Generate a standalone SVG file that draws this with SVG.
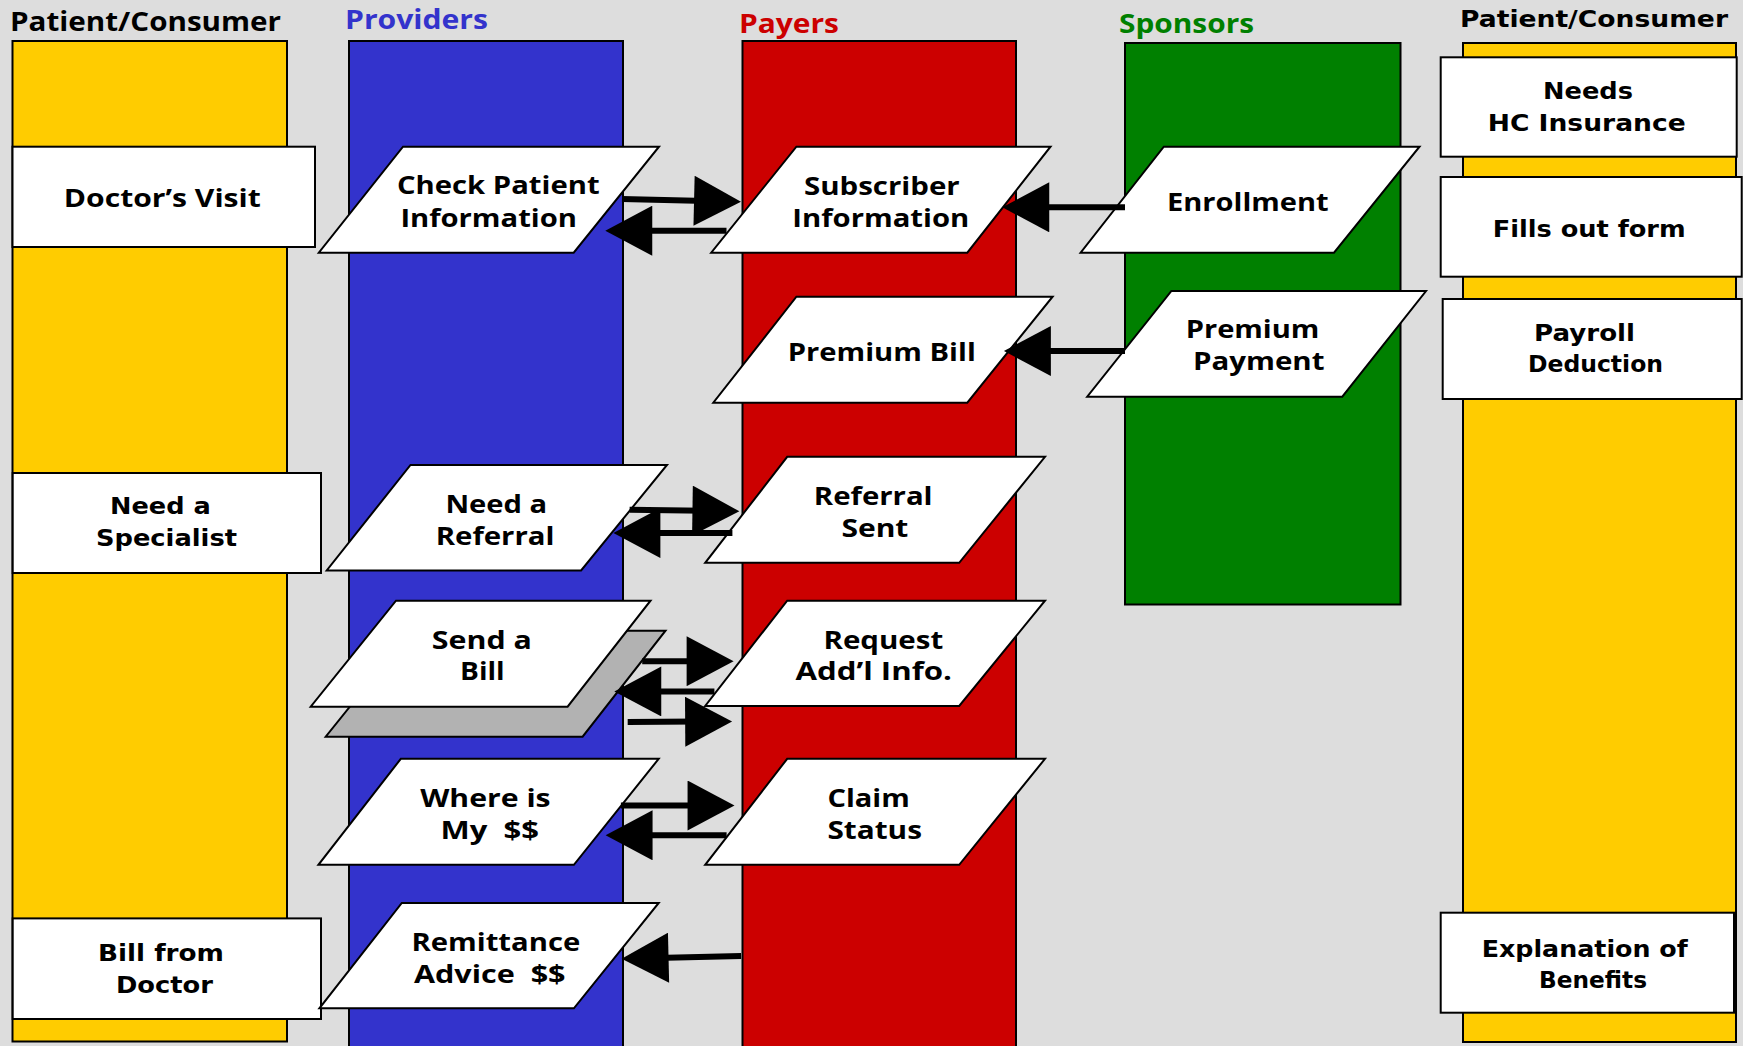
<svg xmlns="http://www.w3.org/2000/svg" width="1743" height="1046" viewBox="0 0 1743 1046">
<style>
.col{stroke:#000;stroke-width:2}
.box{fill:#fff;stroke:#000;stroke-width:2}
.pg{fill:#fff;stroke:#000;stroke-width:2;stroke-linejoin:miter}
.shadow{fill:#b2b2b2;stroke:#000;stroke-width:2}
.vt{font-family:"DejaVu Sans",Verdana,sans-serif;font-weight:bold;font-size:23px;fill:#000}
.ft{font-family:"Open Sans","Noto Sans",sans-serif;font-weight:bold;font-size:25px;fill:#000}
.title{font-family:"Open Sans","Noto Sans",sans-serif;font-weight:bold;font-size:26px}
.conn{stroke:#000;stroke-width:6;fill:none;marker-end:url(#ah)}
</style>
<defs>
<marker id="ah" markerUnits="userSpaceOnUse" markerWidth="48" markerHeight="50" viewBox="0 0 46 49" refX="12" refY="24.5" orient="auto">
<path d="M0,0 L46,24.5 L0,49 Z" fill="#000"/>
</marker>
</defs>
<rect x="0" y="0" width="1743" height="1046" fill="#dddddd"/>

<g id="lanes">
<rect class="col" x="12.5" y="41" width="274.5" height="1000.5" fill="#ffcc00"/>
<rect class="col" x="349" y="41" width="274" height="1010" fill="#3333cc"/>
<rect class="col" x="742.5" y="41" width="273.5" height="1010" fill="#cc0000"/>
<rect class="col" x="1125" y="43" width="275.5" height="561.5" fill="#008000"/>
<rect class="col" x="1463" y="43" width="273" height="999" fill="#ffcc00"/>
</g>

<g id="titles">
<text class="title" x="10" y="30.7" font-size="24" textLength="271" lengthAdjust="spacingAndGlyphs" fill="#000">Patient/Consumer</text>
<text class="title" x="345" y="29.3" textLength="143" lengthAdjust="spacingAndGlyphs" fill="#3333cc">Providers</text>
<text class="title" x="739" y="33.3" textLength="100" lengthAdjust="spacingAndGlyphs" fill="#cc0000">Payers</text>
<text class="title" x="1119" y="33.3" textLength="135" lengthAdjust="spacingAndGlyphs" fill="#008000">Sponsors</text>
<text class="vt" x="1460" y="26.7" textLength="268" lengthAdjust="spacingAndGlyphs">Patient/Consumer</text>
</g>

<g id="doctors-visit">
<rect class="box" x="12.5" y="146.7" width="302.5" height="100.3"/>
<text class="ft" x="63.8" y="206.7" textLength="197" lengthAdjust="spacingAndGlyphs">Doctor’s Visit</text>
</g>
<g id="need-specialist">
<rect class="box" x="12.7" y="473" width="308.3" height="100"/>
<text class="vt" x="110" y="513.9" textLength="100.7" lengthAdjust="spacingAndGlyphs">Need a</text>
<text class="vt" x="96" y="545.5" textLength="141" lengthAdjust="spacingAndGlyphs">Specialist</text>
</g>
<g id="bill-from-doctor">
<rect class="box" x="12.7" y="918.4" width="308.3" height="100.6"/>
<text class="vt" x="98" y="961" textLength="126" lengthAdjust="spacingAndGlyphs">Bill from</text>
<text class="vt" x="116" y="993" textLength="97" lengthAdjust="spacingAndGlyphs">Doctor</text>
</g>

<g id="check-patient">
<polygon class="pg" points="403,146.7 659,146.7 573.7,252.7 318.8,252.7"/>
<text class="ft" x="397" y="194.3" textLength="202.6" lengthAdjust="spacingAndGlyphs">Check Patient</text>
<text class="ft" x="400.4" y="226.7" textLength="176.6" lengthAdjust="spacingAndGlyphs">Information</text>
</g>
<g id="need-referral">
<polygon class="pg" points="410.5,464.9 667,464.9 581.1,570.5 326.7,570.5"/>
<text class="ft" x="445.4" y="512.7" textLength="101.8" lengthAdjust="spacingAndGlyphs">Need a</text>
<text class="ft" x="435.7" y="544.5" textLength="118.8" lengthAdjust="spacingAndGlyphs">Referral</text>
</g>
<g id="send-bill">
<polygon class="shadow" points="411,630.7 665.5,630.7 582.6,736.7 325.7,736.7"/>
<polygon class="pg" points="396,600.7 650.5,600.7 567.6,706.7 310.7,706.7"/>
<text class="ft" x="431.8" y="648.6" textLength="100" lengthAdjust="spacingAndGlyphs">Send a</text>
<text class="ft" x="460" y="680.3" textLength="44.6" lengthAdjust="spacingAndGlyphs">Bill</text>
</g>
<g id="where-is-my-money">
<polygon class="pg" points="400.8,758.8 658.7,758.8 573.9,864.8 318.4,864.8"/>
<text class="ft" x="420.2" y="806.6" textLength="130.4" lengthAdjust="spacingAndGlyphs">Where is</text>
<text class="ft" x="440.6" y="839.2" textLength="98.4" lengthAdjust="spacingAndGlyphs" xml:space="preserve">My  $$</text>
</g>
<g id="remittance-advice">
<polygon class="pg" points="401.8,903 658.7,903 573.9,1008.3 319.4,1008.3"/>
<text class="ft" x="411.5" y="950.9" textLength="168.7" lengthAdjust="spacingAndGlyphs">Remittance</text>
<text class="ft" x="413.9" y="982.7" textLength="151.7" lengthAdjust="spacingAndGlyphs" xml:space="preserve">Advice  $$</text>
</g>

<g id="subscriber-info">
<polygon class="pg" points="796.4,146.7 1050.5,146.7 967.3,252.7 711.2,252.7"/>
<text class="ft" x="804" y="195" textLength="155.7" lengthAdjust="spacingAndGlyphs">Subscriber</text>
<text class="ft" x="792.3" y="226.7" textLength="177" lengthAdjust="spacingAndGlyphs">Information</text>
</g>
<g id="premium-bill">
<polygon class="pg" points="796.4,296.7 1052.6,296.7 967.3,402.7 713.3,402.7"/>
<text class="ft" x="787.8" y="360.7" textLength="188" lengthAdjust="spacingAndGlyphs">Premium Bill</text>
</g>
<g id="referral-sent">
<polygon class="pg" points="787.2,456.8 1045,456.8 959.2,562.8 705.2,562.8"/>
<text class="ft" x="813.8" y="505" textLength="118.8" lengthAdjust="spacingAndGlyphs">Referral</text>
<text class="ft" x="841.4" y="536.8" textLength="67" lengthAdjust="spacingAndGlyphs">Sent</text>
</g>
<g id="request-info">
<polygon class="pg" points="787.2,600.7 1045,600.7 959.2,706 705.2,706"/>
<text class="ft" x="823.5" y="648.6" textLength="119.7" lengthAdjust="spacingAndGlyphs">Request</text>
<text class="ft" x="795.4" y="680.3" textLength="156.6" lengthAdjust="spacingAndGlyphs">Add’l Info.</text>
</g>
<g id="claim-status">
<polygon class="pg" points="787.2,758.8 1045,758.8 959.2,864.8 705.2,864.8"/>
<text class="ft" x="827.4" y="806.6" textLength="82.4" lengthAdjust="spacingAndGlyphs">Claim</text>
<text class="ft" x="827.4" y="839.2" textLength="94.6" lengthAdjust="spacingAndGlyphs">Status</text>
</g>

<g id="enrollment">
<polygon class="pg" points="1163.8,146.7 1419.5,146.7 1334,252.7 1080.6,252.7"/>
<text class="ft" x="1167" y="210.7" textLength="161.6" lengthAdjust="spacingAndGlyphs">Enrollment</text>
</g>
<g id="premium-payment">
<polygon class="pg" points="1171.4,291 1426,291 1342.3,396.7 1087.2,396.7"/>
<text class="ft" x="1185.7" y="338.3" textLength="133.7" lengthAdjust="spacingAndGlyphs">Premium</text>
<text class="ft" x="1192.9" y="370" textLength="131.6" lengthAdjust="spacingAndGlyphs">Payment</text>
</g>

<g id="needs-insurance">
<rect class="box" x="1440.7" y="57.3" width="296" height="99.4"/>
<text class="vt" x="1543" y="99.3" textLength="90" lengthAdjust="spacingAndGlyphs">Needs</text>
<text class="vt" x="1487.7" y="130.7" textLength="198" lengthAdjust="spacingAndGlyphs">HC Insurance</text>
</g>
<g id="fills-form">
<rect class="box" x="1440.7" y="177" width="301" height="99.7"/>
<text class="vt" x="1492.7" y="236.7" textLength="193" lengthAdjust="spacingAndGlyphs">Fills out form</text>
</g>
<g id="payroll-deduction">
<rect class="box" x="1442.7" y="299" width="299" height="100"/>
<text class="vt" x="1534" y="340.7" textLength="101" lengthAdjust="spacingAndGlyphs">Payroll</text>
<text class="vt" x="1528" y="372.3" textLength="135" lengthAdjust="spacingAndGlyphs">Deduction</text>
</g>
<g id="explanation-benefits">
<rect class="box" x="1440.7" y="912.7" width="293.3" height="100"/>
<text class="vt" x="1481.7" y="956.7" textLength="206" lengthAdjust="spacingAndGlyphs">Explanation of</text>
<text class="vt" x="1539" y="988.3" textLength="108" lengthAdjust="spacingAndGlyphs">Benefits</text>
</g>

<g id="connectors">
<line class="conn" x1="622" y1="199" x2="706.3" y2="201"/>
<line class="conn" x1="726.5" y1="230.7" x2="640" y2="230.7"/>
<line class="conn" x1="1125" y1="207.3" x2="1037" y2="207.3"/>
<line class="conn" x1="1125" y1="351" x2="1038.6" y2="351"/>
<line class="conn" x1="629.6" y1="509.7" x2="704.7" y2="510.8"/>
<line class="conn" x1="732.4" y1="533" x2="648.1" y2="533"/>
<line class="conn" x1="642.2" y1="661.2" x2="698.9" y2="661.2"/>
<line class="conn" x1="714.4" y1="691.4" x2="649" y2="691.4"/>
<line class="conn" x1="627.7" y1="722" x2="697.4" y2="721.6"/>
<line class="conn" x1="620.9" y1="805.5" x2="699.8" y2="805.5"/>
<line class="conn" x1="726.6" y1="835.3" x2="640.3" y2="835.3"/>
<line class="conn" x1="741.1" y1="956" x2="656.3" y2="958"/>
</g>
</svg>
